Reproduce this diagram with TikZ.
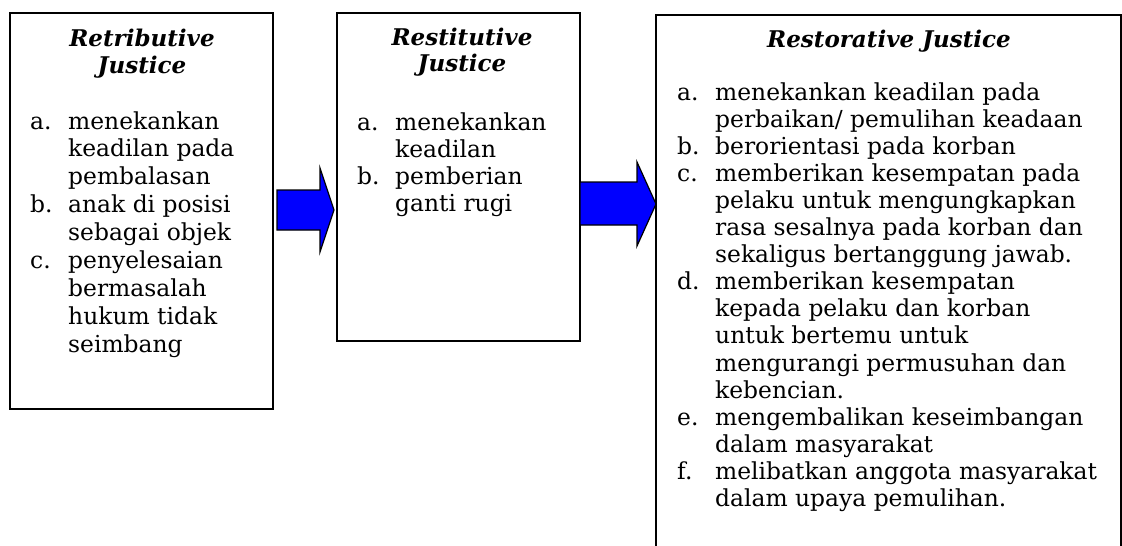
\documentclass[tikz,border=0pt]{standalone}
\usepackage{fontspec}
\setmainfont{DejaVu Serif}
\newcommand{\bodyfont}{\fontsize{23.4}{27.3}\selectfont}
\newcommand{\titlefont}{\fontsize{23}{27}\selectfont\bfseries\itshape}
\newcommand{\lbl}[1]{\makebox[38pt][l]{#1}}
\begin{document}
\begin{tikzpicture}[x=1pt,y=-1pt,
  box/.style={draw, line width=2pt, rectangle, anchor=north west, inner sep=0pt},
  title/.style={inner sep=0pt, anchor=base, font=\titlefont},
  items/.style={inner sep=0pt, anchor=base west, font=\bodyfont},
  blockarrow/.style={draw=black, line width=1.2pt, fill=blue, line join=miter}]
\useasboundingbox (0,0) rectangle (1122,546);
\fill[white] (0,0) rectangle (1122,546);

% boxes
\node[box, minimum width=263pt, minimum height=396pt] (b1) at (9,12) {};
\node[box, minimum width=243pt, minimum height=328pt] (b2) at (336,12) {};
\node[box, minimum width=465pt, minimum height=560pt] (b3) at (655,14) {};

% titles
\node[title] (t1) at (142,46) {\begin{tabular}[t]{@{}c@{}}Retributive\\Justice\end{tabular}};
\node[title] (t2) at (462,45) {\begin{tabular}[t]{@{}c@{}}Restitutive\\Justice\end{tabular}};
\node[title] (t3) at (889,47) {Restorative Justice};

% lists
\node[items, font=\fontsize{23.4}{27.9}\selectfont] (l1) at (30,129) {\begin{tabular}[t]{@{}l@{}}
\lbl{a.}menekankan\\
\lbl{}keadilan pada\\
\lbl{}pembalasan\\
\lbl{b.}anak di posisi\\
\lbl{}sebagai objek\\
\lbl{c.}penyelesaian\\
\lbl{}bermasalah\\
\lbl{}hukum tidak\\
\lbl{}seimbang
\end{tabular}};

\node[items] (l2) at (357,130) {\begin{tabular}[t]{@{}l@{}}
\lbl{a.}menekankan\\
\lbl{}keadilan\\
\lbl{b.}pemberian\\
\lbl{}ganti rugi
\end{tabular}};

\node[items, font=\fontsize{23.4}{27.1}\selectfont] (l3) at (677,100) {\begin{tabular}[t]{@{}l@{}}
\lbl{a.}menekankan keadilan pada\\
\lbl{}perbaikan/ pemulihan keadaan\\
\lbl{b.}berorientasi pada korban\\
\lbl{c.}memberikan kesempatan pada\\
\lbl{}pelaku untuk mengungkapkan\\
\lbl{}rasa sesalnya pada korban dan\\
\lbl{}sekaligus bertanggung jawab.\\
\lbl{d.}memberikan kesempatan\\
\lbl{}kepada pelaku dan korban\\
\lbl{}untuk bertemu untuk\\
\lbl{}mengurangi permusuhan dan\\
\lbl{}kebencian.\\
\lbl{e.}mengembalikan keseimbangan\\
\lbl{}dalam masyarakat\\
\lbl{f.}melibatkan anggota masyarakat\\
\lbl{}dalam upaya pemulihan.
\end{tabular}};

% block arrows
\draw[blockarrow] (277,190) -- (320,190) -- (320,168) -- (334,210) -- (320,252) -- (320,230) -- (277,230) -- cycle;
\draw[blockarrow] (580,182) -- (637,182) -- (637,162) -- (656,204) -- (637,246) -- (637,225) -- (580,225) -- cycle;
\end{tikzpicture}
\end{document}
